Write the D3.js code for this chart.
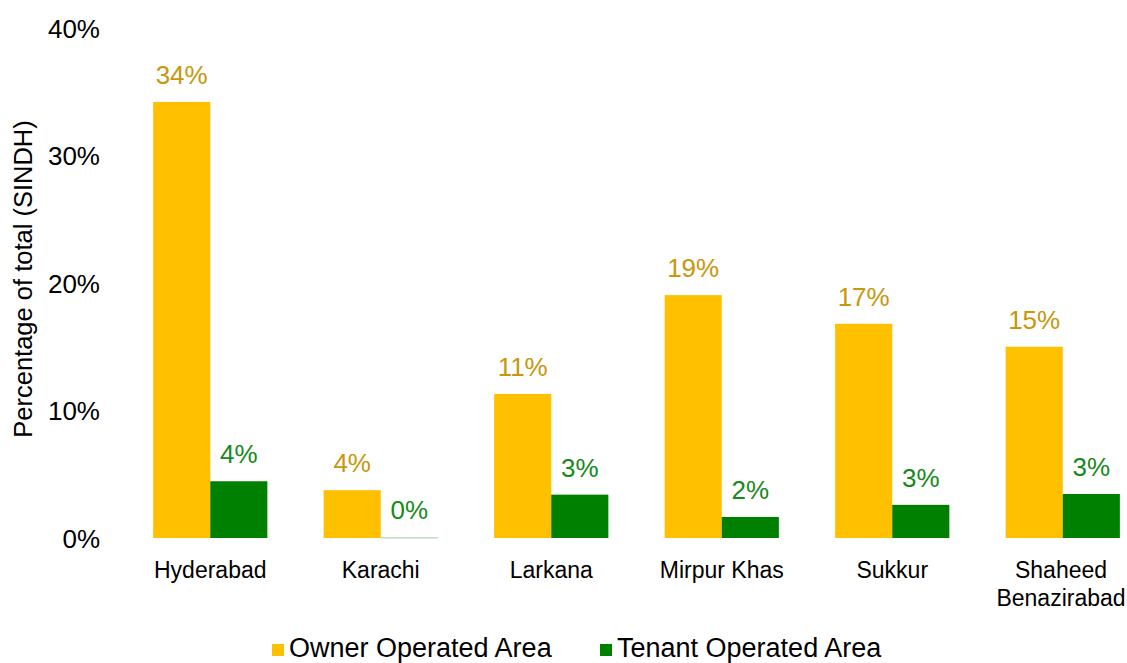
<!DOCTYPE html>
<html>
<head>
<meta charset="utf-8">
<script src="https://cdn.jsdelivr.net/npm/d3@7"></script>
<style>
  body { margin: 0; background: #fff; }
  text { font-family: "Liberation Sans", Arial, sans-serif; }
</style>
</head>
<body>
<div id="chart"></div>
<script>
// data
const districts = ["Hyderabad", "Karachi", "Larkana", "Mirpur Khas", "Sukkur", "Shaheed Benazirabad"];
const ownerArea = [34.2, 3.75, 11.3, 19.05, 16.8, 15.0];
const tenantArea = [4.45, 0.05, 3.4, 1.65, 2.6, 3.45];
const seriesNames = ["Owner Operated Area", "Tenant Operated Area"];
const yTicks = [0, 10, 20, 30, 40];

const width = 1127, height = 663;
const colors = ["#FFC000", "#008000"];
const labelColors = ["#C9960C", "#17891A"];

const svg = d3.select("#chart").append("svg")
  .attr("width", width)
  .attr("height", height);

const x = d3.scaleBand()
  .domain(districts)
  .range([125, 1148])
  .paddingInner(0.33)
  .paddingOuter(0.165);

const xSub = d3.scaleBand()
  .domain(seriesNames)
  .range([0, x.bandwidth()]);

const y = d3.scaleLinear()
  .domain([0, 40])
  .range([538, 28]);

// y axis labels only, no line
const yAxis = svg.append("g")
  .attr("transform", "translate(100,0)")
  .call(d3.axisLeft(y).tickValues(yTicks).tickSize(0).tickPadding(0).tickFormat(d => d + "%"));
yAxis.select(".domain").remove();
yAxis.selectAll("text")
  .style("font-size", "26px")
  .attr("fill", "#000")
  .attr("dy", "0.35em");

svg.append("text")
  .attr("transform", "translate(32,279) rotate(-90)")
  .attr("text-anchor", "middle")
  .style("font-size", "25.5px")
  .attr("fill", "#000")
  .text("Percentage of total (SINDH)");

const rows = districts.map((d, i) => ({ name: d, vals: [ownerArea[i], tenantArea[i]] }));

const groups = svg.selectAll("g.district")
  .data(rows)
  .enter()
  .append("g")
  .attr("class", "district")
  .attr("transform", d => `translate(${x(d.name)},0)`);

groups.selectAll("rect")
  .data(d => d.vals.map((v, k) => ({ v, k })))
  .enter()
  .append("rect")
  .attr("x", d => xSub(seriesNames[d.k]))
  .attr("y", d => y(d.v))
  .attr("width", xSub.bandwidth())
  .attr("height", d => Math.max(1, y(0) - y(d.v)))
  .attr("fill", d => d.k === 1 && d.v < 0.5 ? "#9fcf9f" : colors[d.k]);

groups.selectAll("text.val")
  .data(d => d.vals.map((v, k) => ({ v, k })))
  .enter()
  .append("text")
  .attr("class", "val")
  .attr("x", d => xSub(seriesNames[d.k]) + xSub.bandwidth() / 2)
  .attr("y", d => y(d.v) - 18)
  .attr("text-anchor", "middle")
  .style("font-size", "26px")
  .attr("fill", d => labelColors[d.k])
  .text(d => Math.round(d.v) + "%");

// category labels
const xAxis = svg.append("g")
  .attr("transform", "translate(0,538)");
districts.forEach(name => {
  const words = name === "Shaheed Benazirabad" ? ["Shaheed", "Benazirabad"] : [name];
  const cx = Math.min(x(name) + x.bandwidth() / 2, 1061);
  const t = xAxis.append("text")
    .attr("x", cx)
    .attr("y", 40)
    .attr("text-anchor", "middle")
    .style("font-size", "23px")
    .attr("fill", "#000");
  words.forEach((w, j) => {
    t.append("tspan")
      .attr("x", cx)
      .attr("dy", j === 0 ? 0 : 28)
      .text(w);
  });
});

// legend
const legendX = [272, 600];
const legend = svg.append("g");
seriesNames.forEach((s, k) => {
  legend.append("rect")
    .attr("x", legendX[k])
    .attr("y", 644)
    .attr("width", 12)
    .attr("height", 12)
    .attr("fill", colors[k]);
  legend.append("text")
    .attr("x", legendX[k] + 17)
    .attr("y", 657)
    .style("font-size", "27px")
    .attr("fill", "#000")
    .text(s);
});
</script>
</body>
</html>
